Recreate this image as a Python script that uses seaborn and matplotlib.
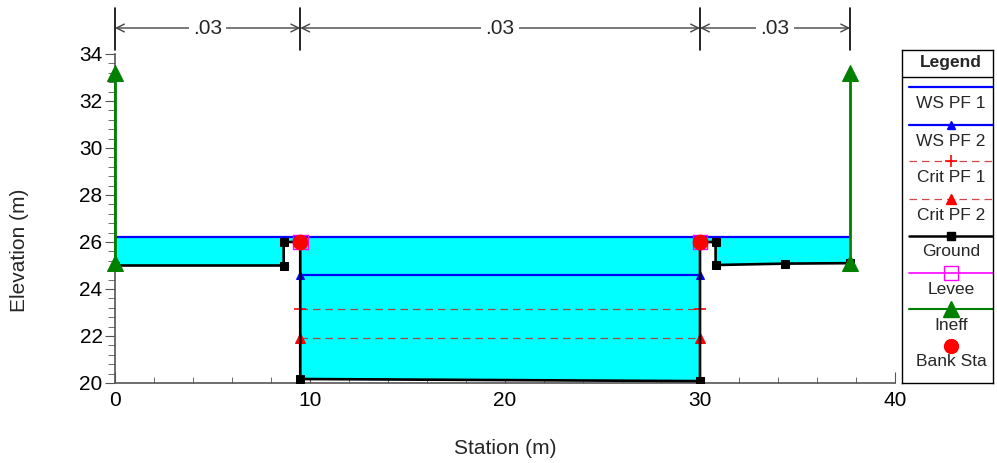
import numpy as np
import pandas as pd
import seaborn as sns
import matplotlib.pyplot as plt
import matplotlib.transforms as mtransforms
from matplotlib.lines import Line2D
from matplotlib.ticker import MultipleLocator

# cross section data
ground_x = [0.0, 8.65, 8.65, 9.5, 9.5, 30.0, 30.0, 30.8, 30.8, 34.35, 37.7]
ground_y = [25.0, 25.0, 26.0, 26.0, 20.17, 20.08, 26.0, 26.0, 25.02, 25.08, 25.1]
bank_sta = [9.5, 30.0]
bank_elev = [26.0, 26.0]
ineff_sta = [0.0, 37.7]
ineff_low = [25.1, 25.1]
ineff_high = [33.2, 33.2]
ws_pf1 = 26.2
ws_pf2 = 24.6
crit_pf1 = 23.15
crit_pf2 = 21.9
n_breaks = [0.0, 9.5, 30.0, 37.7]
n_values = ['.03', '.03', '.03']

legend_labels = ['WS PF 1', 'WS PF 2', 'Crit PF 1', 'Crit PF 2', 'Ground', 'Levee', 'Ineff', 'Bank Sta']

sns.set_style('ticks')
plt.rcParams['font.family'] = ['Liberation Sans', 'DejaVu Sans']

ground = pd.DataFrame({'Station': ground_x, 'Elevation': ground_y})

fig = plt.figure(figsize=(9.97, 4.63), dpi=100)
ax = fig.add_axes([115 / 997, 1 - 383 / 463, 780 / 997, 329 / 463])

# water fill for the highest profile
ax.fill_between(ground_x, ground_y, ws_pf1, color='#00ffff', lw=0, zorder=1)

sns.lineplot(x=[ground_x[0], ground_x[-1]], y=[ws_pf1, ws_pf1], color='blue', lw=1.6, ax=ax, zorder=3)
sns.lineplot(x=bank_sta, y=[ws_pf2, ws_pf2], color='blue', lw=1.6, marker='^', markersize=6,
             markeredgecolor='blue', ax=ax, zorder=3)
sns.lineplot(x=bank_sta, y=[crit_pf1, crit_pf1], color='#a04848', lw=0.9, dashes=(6, 4),
             marker='+', markersize=8, markeredgecolor='red', markeredgewidth=1.2, ax=ax, zorder=3)
sns.lineplot(x=bank_sta, y=[crit_pf2, crit_pf2], color='#a04848', lw=0.9, dashes=(6, 4),
             marker='^', markersize=7, markerfacecolor='red', markeredgecolor='red', ax=ax, zorder=3)

sns.lineplot(data=ground, x='Station', y='Elevation', sort=False, estimator=None, color='black', lw=1.9,
             marker='s', markersize=6, markeredgecolor='black', ax=ax, zorder=4)

# levee symbols and bank stations
sns.scatterplot(x=bank_sta, y=bank_elev, marker='s', s=110, facecolor='none', edgecolor='magenta',
                linewidth=1.0, ax=ax, zorder=5)
sns.scatterplot(x=bank_sta, y=bank_elev, color='red', s=110, edgecolor='red', ax=ax, zorder=6)

# ineffective flow areas
for sta, lo, hi in zip(ineff_sta, ineff_low, ineff_high):
    sns.lineplot(x=[sta, sta], y=[lo, hi], sort=False, estimator=None, color='green', lw=2,
                 marker='^', markersize=11, markeredgecolor='green', ax=ax, zorder=7, clip_on=False)

ax.set_xlim(0, 40)
ax.set_ylim(20, 34)
ax.xaxis.set_major_locator(MultipleLocator(10))
ax.xaxis.set_minor_locator(MultipleLocator(2))
ax.yaxis.set_major_locator(MultipleLocator(2))
ax.yaxis.set_minor_locator(MultipleLocator(0.4))
ax.tick_params(axis='x', which='both', direction='in', colors='#555555', labelcolor='black', labelsize=15)
ax.tick_params(axis='x', which='major', length=8, pad=6)
ax.tick_params(axis='x', which='minor', length=4)
ax.tick_params(axis='y', which='both', direction='out', colors='#555555', labelcolor='black', labelsize=15)
ax.tick_params(axis='y', which='major', length=7, pad=2)
ax.tick_params(axis='y', which='minor', length=5)
for side in ['top', 'right']:
    ax.spines[side].set_visible(False)
for side in ['left', 'bottom']:
    ax.spines[side].set_color('#555555')
    ax.spines[side].set_linewidth(1.2)
ax.set_xlabel('Station (m)', fontsize=15)
ax.set_ylabel('Elevation (m)', fontsize=15)
ax.xaxis.set_label_coords(0.5, -0.17)
ax.yaxis.set_label_coords(-0.11, 0.404)

# manning's n annotation above the plot
trans = mtransforms.blended_transform_factory(ax.transData, ax.transAxes)
for sta in n_breaks:
    ax.plot([sta, sta], [1.012, 1.14], transform=trans, color='black', lw=1.2, clip_on=False)
for i, txt in enumerate(n_values):
    x0, x1 = n_breaks[i], n_breaks[i + 1]
    ax.annotate('', xy=(x0, 1.079), xytext=(x1, 1.079), xycoords=trans, textcoords=trans,
                arrowprops=dict(arrowstyle='<->', color='#444444', lw=1.0, shrinkA=0, shrinkB=0,
                                mutation_scale=14))
    ax.text((x0 + x1) / 2, 1.079, txt, transform=trans, ha='center', va='center', fontsize=15,
            bbox=dict(facecolor='white', edgecolor='none', pad=3))

# legend box
lax = fig.add_axes([902 / 997, 1 - 383 / 463, 91 / 997, 333 / 463])
lax.set_xlim(0, 1)
lax.set_ylim(0, 1)
lax.set_xticks([])
lax.set_yticks([])
for s in lax.spines.values():
    s.set_color('black')
    s.set_linewidth(1.0)
    s.set_visible(True)
lax.text(0.54, 0.962, 'Legend', ha='center', va='center', fontsize=12.5, fontweight='bold')
lax.plot([0, 1], [0.919, 0.919], color='black', lw=1.0)

styles = [
    dict(color='blue', lw=1.6),
    dict(color='blue', lw=1.6, marker='^', markersize=6),
    dict(color='#d04848', lw=0.9, ls=(0, (6, 4)), marker='+', markersize=8, markeredgecolor='red', markeredgewidth=1.2),
    dict(color='#d04848', lw=0.9, ls=(0, (6, 4)), marker='^', markersize=7, markerfacecolor='red', markeredgecolor='red'),
    dict(color='black', lw=1.8, marker='s', markersize=6),
    dict(color='magenta', lw=1.2, marker='s', markersize=10, markerfacecolor='none', markeredgecolor='magenta'),
    dict(color='green', lw=1.5, marker='^', markersize=11),
    dict(color='none', lw=0, marker='o', markersize=10, markerfacecolor='red', markeredgecolor='red'),
]
line_px = [87, 125, 161, 199, 236, 273, 309, 346]
label_px = [103, 142, 178, 215, 252, 289, 325, 362]
for lab, st, lp, tp in zip(legend_labels, styles, line_px, label_px):
    yl = (383 - lp) / 333
    yt = (383 - tp) / 333
    lax.add_line(Line2D([0.077, 0.54, 1.0], [yl, yl, yl], markevery=[1], **st))
    lax.text(0.54, yt, lab, ha='center', va='center', fontsize=12.5)

fig.savefig('out.png', dpi=100)
